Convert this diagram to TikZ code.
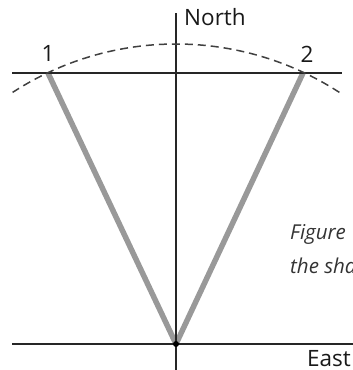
\documentclass[tikz,border=0pt]{standalone}
\usepackage{fontspec}
\setmainfont{Open Sans}
\begin{document}
\begin{tikzpicture}[x=1pt,y=1pt,
  thinline/.style={draw=black!85,line width=1.3pt},
  rayline/.style={draw=black!40,line width=5.5pt},
  arcline/.style={draw=black!75,line width=1.5pt,dash pattern=on 8pt off 5pt},
  lbl/.style={font=\fontsize{22.5}{26}\selectfont,text=black!90,inner sep=0pt},
  captext/.style={font=\fontsize{20.5}{24}\selectfont\itshape,text=black!80,inner sep=0pt,anchor=base west}]
\useasboundingbox (0,0) rectangle (353,370);
\clip (0,0) rectangle (353,370);
\coordinate (O) at (176,26);
\coordinate (P1) at (48,297);
\coordinate (P2) at (303,297);
\coordinate (Vt) at (176,357);
\coordinate (Vb) at (176,0);
\coordinate (Tl) at (12,297);
\coordinate (Tr) at (342,297);
\coordinate (Bl) at (12,26);
\coordinate (Br) at (353,26);
% rays
\draw[rayline] (P1) -- (O);
\draw[rayline] (P2) -- (O);
% axes
\draw[thinline] (Vb) -- (Vt);
\draw[thinline] (Tl) -- (Tr);
\draw[thinline] (Bl) -- (Br);
% arc
\draw[arcline] (O) ++(57:300) arc[start angle=57,end angle=123,radius=300];
% dot
\fill[black] (O) circle[radius=3];
% labels
\node[lbl,anchor=base west] (north) at (184,344) {North};
\node[lbl,anchor=base] (one) at (48,308) {1};
\node[lbl,anchor=base] (two) at (307,307) {2};
\node[lbl,anchor=base east] (east) at (351,4) {East};
\node[captext] (fig1) at (290,130) {Figure};
\node[captext] (fig2) at (290,96) {the sha};
\end{tikzpicture}
\end{document}
